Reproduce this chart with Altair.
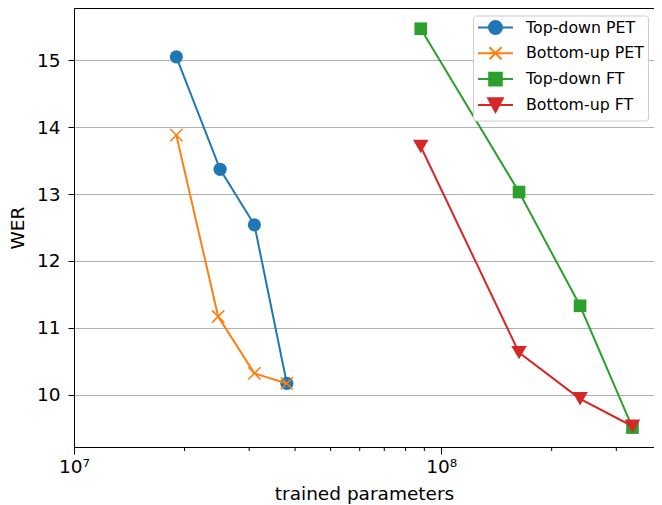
import altair as alt
import pandas as pd

series_names = ["Top-down PET", "Bottom-up PET", "Top-down FT", "Bottom-up FT"]
colors = ["#1f77b4", "#ff7f0e", "#2ca02c", "#d62728"]

td_pet_params = [1.90e7, 2.50e7, 3.10e7, 3.80e7]
td_pet_wer = [15.05, 13.37, 12.54, 10.17]
bu_pet_params = [1.90e7, 2.47e7, 3.10e7, 3.80e7]
bu_pet_wer = [13.88, 11.17, 10.32, 10.17]
td_ft_params = [8.8e7, 1.63e8, 2.39e8, 3.32e8]
td_ft_wer = [15.47, 13.03, 11.33, 9.51]
bu_ft_params = [8.8e7, 1.63e8, 2.39e8, 3.32e8]
bu_ft_wer = [13.71, 10.63, 9.94, 9.53]

y_ticks = [10, 11, 12, 13, 14, 15]
x_major_ticks = [1e7, 1e8]
x_minor_ticks = [2e7, 3e7, 4e7, 5e7, 6e7, 7e7, 8e7, 9e7, 2e8, 3e8]

all_params = [td_pet_params, bu_pet_params, td_ft_params, bu_ft_params]
all_wer = [td_pet_wer, bu_pet_wer, td_ft_wer, bu_ft_wer]

rows = []
for name, ps, ws in zip(series_names, all_params, all_wer):
    for p, w in zip(ps, ws):
        rows.append({"series": name, "params": p, "wer": w})
df = pd.DataFrame(rows)
minor_df = pd.DataFrame({"params": x_minor_ticks, "wer": [10.0] * len(x_minor_ticks)})

PW, PH = 580, 439
FONT = "DejaVu Sans"

x_scale = alt.Scale(type="log", domain=[1e7, 3.8e8], nice=False)
y_scale = alt.Scale(domain=[9.22, 15.78], nice=False, zero=False)

X = alt.X(
    "params:Q", scale=x_scale,
    axis=alt.Axis(values=x_major_ticks, title="trained parameters", grid=False,
                  labelExpr="datum.value == 10000000 ? '10⁷' : (datum.value == 100000000 ? '10⁸' : '')",
                  tickSize=7, labelPadding=3, titlePadding=9, labelFontSize=18.5,
                  titleFontSize=18.5, labelFlush=False),
)
Y = alt.Y(
    "wer:Q", scale=y_scale,
    axis=alt.Axis(values=y_ticks, title="WER", grid=True, gridColor="#b0b0b0",
                  gridWidth=1, tickSize=6, labelPadding=8, titlePadding=9,
                  labelFontSize=18.5, titleFontSize=18.5),
)

marker_specs = [
    dict(shape="circle", filled=True, size=175, strokeWidth=1),
    dict(shape="M-1,-1L1,1M-1,1L1,-1", filled=False, size=150, strokeWidth=1.6),
    dict(shape="square", filled=True, size=160, strokeWidth=1),
    dict(shape="triangle-down", filled=True, size=240, strokeWidth=1),
]

# legend handles: unit = 7px; line from -1 to 4 units, marker centred at 1.5
legend_paths = [
    "M-1,0L4,0M2.43,0A0.93,0.93,0,1,1,0.57,0A0.93,0.93,0,1,1,2.43,0Z",
    "M-1,0L4,0M0.64,-0.86L2.36,0.86M0.64,0.86L2.36,-0.86",
    "M-1,0L4,0M0.6,-0.9L2.4,-0.9L2.4,0.9L0.6,0.9Z",
    "M-1,0L4,0M0.45,-0.95L2.55,-0.95L1.5,1.0Z",
]

leg = alt.Legend(
    title=None, orient="none", legendX=399, legendY=7.5, padding=4,
    fillColor="white", strokeColor="#cccccc", cornerRadius=3,
    symbolOpacity=1, symbolSize=196, symbolStrokeWidth=2,
    labelFont=FONT, labelFontSize=15.8, labelOffset=33, rowPadding=3.8,
    labelColor="black",
)

minor = alt.Chart(minor_df).mark_rule(color="black", strokeWidth=1).encode(
    x=X, y=alt.value(PH), y2=alt.value(PH + 4),
)

layers = [minor]
for name, spec, col in zip(series_names, marker_specs, colors):
    base = alt.Chart(df).transform_filter(alt.datum.series == name)
    line = base.mark_line(strokeWidth=2, color=col).encode(x=X, y=Y)
    pts = base.mark_point(opacity=1, color=col, **spec).encode(x=X, y=Y)
    layers += [line, pts]

legend_layer = alt.Chart(df).mark_point(opacity=0, filled=True).encode(
    x=X, y=Y,
    fill=alt.Fill("series:N", scale=alt.Scale(domain=series_names, range=colors), legend=leg),
    stroke=alt.Stroke("series:N", scale=alt.Scale(domain=series_names, range=colors), legend=leg),
    shape=alt.Shape("series:N", scale=alt.Scale(domain=series_names, range=legend_paths), legend=leg),
)
layers.append(legend_layer)

chart = alt.layer(*layers).properties(
    width=PW, height=PH,
    autosize=alt.AutoSizeParams(type="none"),
    padding={"left": 66, "top": 0, "right": 0, "bottom": 58},
).configure_view(
    stroke="black", strokeWidth=1
).configure_axis(
    labelFont=FONT, titleFont=FONT, labelColor="black", titleColor="black",
    domainColor="black", tickColor="black", domainWidth=1, tickWidth=1,
    titleFontWeight="normal",
)

chart.save("out.html", embed_options={"renderer": "svg", "actions": False})
